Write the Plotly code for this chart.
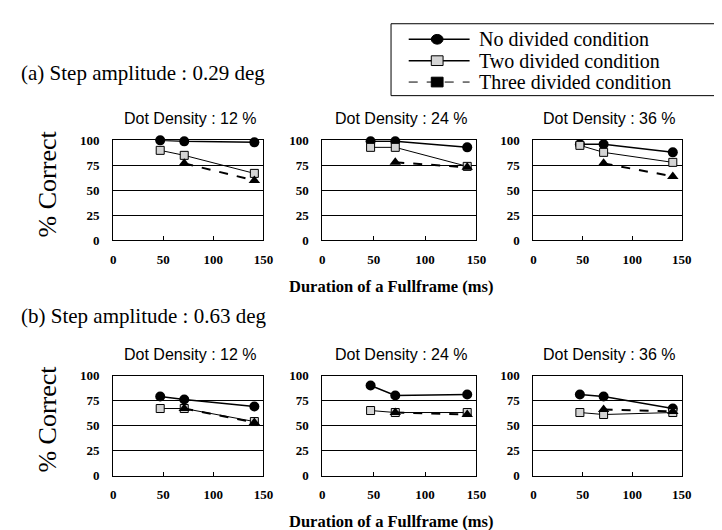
import plotly.graph_objects as go
from plotly.subplots import make_subplots

W, H = 722, 530

# ---------------- data ----------------
DURATION = [47, 71, 141]          # Duration of a Fullframe (ms)
DENSITY_TITLES = ["Dot Density : 12 %", "Dot Density : 24 %", "Dot Density : 36 %"]
ROW_TITLES = ["(a) Step amplitude : 0.29 deg", "(b) Step amplitude : 0.63 deg"]
SERIES_NAMES = ["No divided condition", "Two divided condition", "Three divided condition"]
Y_TICKS = [0, 25, 50, 75, 100]
X_TICKS = [0, 50, 100, 150]

# (a) step amplitude 0.29 deg
a12_no = [100, 99, 98]
a12_two = [90, 85, 67]
a12_three = [None, 77, 60]
a24_no = [99, 99, 93]
a24_two = [93, 93, 74]
a24_three = [None, 78, 73]
a36_no = [96, 96, 88]
a36_two = [95, 88, 78]
a36_three = [None, 77, 64]

# (b) step amplitude 0.63 deg
b12_no = [79, 76, 69]
b12_two = [67, 67, 54]
b12_three = [None, 67, 53]
b24_no = [90, 80, 81]
b24_two = [65, 63, 63]
b24_three = [None, 63, 61]
b36_no = [81, 79, 67]
b36_two = [63, 61, 63]
b36_three = [None, 66, 64]

PANELS = [
    [(a12_no, a12_two, a12_three), (a24_no, a24_two, a24_three), (a36_no, a36_two, a36_three)],
    [(b12_no, b12_two, b12_three), (b24_no, b24_two, b24_three), (b36_no, b36_two, b36_three)],
]

# ---------------- layout helpers ----------------
def px(x):
    return x / W

def py(y):
    return 1 - y / H

SERIF = "Liberation Serif"
SANS = "Liberation Sans"

COL_X = [(104, 257), (317, 474), (532, 683)]
ROW_Y = [(129, 232), (371, 474)]
ROW_LABEL_Y = [60, 310]

fig = make_subplots(rows=2, cols=3)

styles = [
    dict(mode="lines+markers", line=dict(color="black", width=1.5),
         marker=dict(symbol="circle", size=10, color="black")),
    dict(mode="lines+markers", line=dict(color="black", width=1),
         marker=dict(symbol="square", size=8, color="#d4d4d4", line=dict(color="black", width=1))),
    dict(mode="lines+markers", line=dict(color="black", width=2, dash="dash"),
         marker=dict(symbol="triangle-up", size=10, color="black")),
]

tickfont = dict(family=SERIF, size=13, color="black", weight="bold")

for r in range(2):
    for c in range(3):
        for s, vals in enumerate(PANELS[r][c]):
            fig.add_trace(go.Scatter(x=DURATION, y=vals, name=SERIES_NAMES[s],
                                     showlegend=False, cliponaxis=False,
                                     connectgaps=False, **styles[s]),
                          row=r + 1, col=c + 1)
        fig.update_xaxes(domain=[px(COL_X[c][0]), px(COL_X[c][1])], range=[0, 150],
                         tickvals=X_TICKS, ticks="inside", ticklen=4, tickcolor="black",
                         showgrid=False, zeroline=False, showline=True, linecolor="black",
                         linewidth=1, mirror=True, ticklabelstandoff=7,
                         tickfont=tickfont, row=r + 1, col=c + 1)
        fig.update_yaxes(domain=[py(ROW_Y[r][1]), py(ROW_Y[r][0])], range=[0, 100],
                         tickvals=Y_TICKS, ticks="", showgrid=True, gridcolor="black",
                         gridwidth=1, zeroline=False, showline=True, linecolor="black",
                         linewidth=1, mirror=True, ticklabelstandoff=10,
                         tickfont=tickfont, row=r + 1, col=c + 1)

annotations = []
for r in range(2):
    y0, y1 = ROW_Y[r]
    # row title
    annotations.append(dict(text=ROW_TITLES[r], x=px(8), y=py(ROW_LABEL_Y[r]), xref="paper",
                             yref="paper", xanchor="left", yanchor="middle", showarrow=False,
                             font=dict(family=SERIF, size=21, color="black")))
    # y-axis title
    annotations.append(dict(text="% Correct", x=px(37), y=py(y1 - 58), xref="paper",
                             yref="paper", xanchor="center", yanchor="middle", showarrow=False,
                             textangle=-90, font=dict(family=SERIF, size=26, color="black")))
    # x-axis title
    annotations.append(dict(text="Duration of a Fullframe (ms)", x=px(387), y=py(y1 + 47),
                             xref="paper", yref="paper", xanchor="center", yanchor="middle",
                             showarrow=False,
                             font=dict(family=SERIF, size=16.5, color="black", weight="bold")))
    for c in range(3):
        x0, x1 = COL_X[c]
        annotations.append(dict(text=DENSITY_TITLES[c], x=px((x0 + x1) / 2 + 2), y=py(y0 - 22),
                                 xref="paper", yref="paper", xanchor="center", yanchor="middle",
                                 showarrow=False, font=dict(family=SANS, size=16, color="black")))

# ---------------- hand-drawn legend ----------------
shapes = []
shapes.append(dict(type="rect", xref="paper", yref="paper", x0=px(387), x1=px(721),
                   y0=py(83), y1=py(9), line=dict(color="black", width=1)))
leg_y = [25, 47, 69]
line_x0, line_x1, mark_x, text_x = 405, 467, 434, 475
for i, ly in enumerate(leg_y):
    dash = "dash" if i == 2 else "solid"
    width = [1.5, 1.5, 1][i]
    shapes.append(dict(type="line", xref="paper", yref="paper", x0=px(line_x0), x1=px(line_x1),
                       y0=py(ly), y1=py(ly), line=dict(color="black", width=width, dash=dash)))
    if i == 0:
        shapes.append(dict(type="circle", xref="paper", yref="paper",
                           x0=px(mark_x - 6), x1=px(mark_x + 6), y0=py(ly + 5), y1=py(ly - 5),
                           fillcolor="black", line=dict(color="black", width=1)))
    else:
        shapes.append(dict(type="rect", xref="paper", yref="paper",
                           x0=px(mark_x - 6), x1=px(mark_x + 6), y0=py(ly + 5), y1=py(ly - 5),
                           fillcolor="#d4d4d4" if i == 1 else "black",
                           line=dict(color="black", width=1)))
    annotations.append(dict(text=SERIES_NAMES[i], x=px(text_x), y=py(ly), xref="paper",
                             yref="paper", xanchor="left", yanchor="middle", showarrow=False,
                             font=dict(family=SERIF, size=20, color="black")))

fig.update_layout(width=W, height=H, margin=dict(l=0, r=0, t=0, b=0),
                  paper_bgcolor="white", plot_bgcolor="white", showlegend=False,
                  annotations=annotations, shapes=shapes)

fig.write_html("out.html")
